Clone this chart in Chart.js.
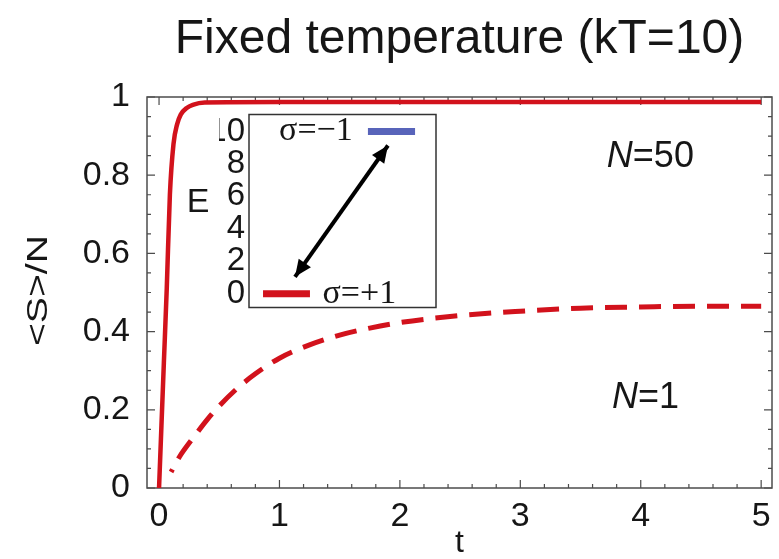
<!DOCTYPE html>
<html>
<head>
<meta charset="utf-8">
<script src="https://cdn.jsdelivr.net/npm/chart.js@4.4.0/dist/chart.umd.min.js"></script>
<style>
  html, body { margin: 0; padding: 0; background: #fff; }
  #wrap { position: relative; width: 779px; height: 559px; }
  #main { position: absolute; left: 0; top: 0; }
  #inset { position: absolute; left: 175px; top: 94px; }
</style>
</head>
<body>
<div id="wrap">
  <canvas id="main" width="779" height="559"></canvas>
  <canvas id="inset" width="275" height="234"></canvas>
</div>
<script>
// <S>/N against time, N = 50 spins
var tN50 = [0, 0.02, 0.04, 0.064, 0.09, 0.12, 0.15, 0.18, 0.23, 0.28, 0.38, 1, 2, 3, 4, 5];
var sN50 = [0, 0.16, 0.32, 0.51, 0.75, 0.88, 0.93, 0.955, 0.972, 0.98, 0.986, 0.987, 0.987, 0.987, 0.987, 0.987];

// single spin, N = 1
var tN1 = [0.1, 0.17, 0.3, 0.4, 0.5, 0.65, 0.8, 1.0, 1.25, 1.5, 1.75, 2.0, 2.5, 3.0, 3.5, 4.0, 4.5, 5.0];
var sN1 = [0.041, 0.08, 0.135, 0.175, 0.21, 0.255, 0.292, 0.332, 0.366, 0.391, 0.409, 0.423, 0.441, 0.452, 0.46, 0.463, 0.465, 0.465];

var xTicks = [0, 1, 2, 3, 4, 5];
var yTicks = [0, 0.2, 0.4, 0.6, 0.8, 1];

// inset: the two energy levels
var levelE = [0, 10];
var levelNames = ['σ=+1', 'σ=−1'];
var insetTicks = [0, 2, 4, 6, 8, 10];

var red = 'rgb(210, 18, 28)';
var blue = 'rgb(88, 100, 186)';
var ink = '#161616';

function pts(xs, ys) {
  return xs.map(function (x, i) { return { x: x, y: ys[i] }; });
}

// mathematica style frame with inward ticks on all four sides
var framePlugin = {
  id: 'frame',
  beforeDatasetsDraw: function (chart) {
    var ctx = chart.ctx, a = chart.chartArea;
    var sx = chart.scales.x, sy = chart.scales.y;
    ctx.save();
    ctx.strokeStyle = '#4c4c4c';
    ctx.lineWidth = 1.5;
    ctx.strokeRect(a.left, a.top, a.right - a.left, a.bottom - a.top);
    ctx.lineWidth = 1.2;
    ctx.beginPath();
    for (var i = 0; i <= 25; i++) {
      var x = sx.getPixelForValue(i / 5);
      var lx = i % 5 ? 4 : 8;
      ctx.moveTo(x, a.bottom); ctx.lineTo(x, a.bottom - lx);
      ctx.moveTo(x, a.top); ctx.lineTo(x, a.top + lx);
    }
    for (var j = 0; j <= 20; j++) {
      var y = sy.getPixelForValue(j / 20);
      var ly = j % 4 ? 4 : 8;
      ctx.moveTo(a.left, y); ctx.lineTo(a.left + ly, y);
      ctx.moveTo(a.right, y); ctx.lineTo(a.right - ly, y);
    }
    ctx.stroke();
    ctx.restore();
  },
  afterDraw: function (chart) {
    var ctx = chart.ctx;
    var sx = chart.scales.x, sy = chart.scales.y;
    ctx.save();
    ctx.fillStyle = ink;
    ctx.textBaseline = 'middle';

    // curve names, italic N
    function nameAt(rest, t, s) {
      ctx.font = 'italic 36px "Liberation Sans"';
      var wN = ctx.measureText('N').width;
      ctx.font = '36px "Liberation Sans"';
      var wR = ctx.measureText(rest).width;
      var x0 = sx.getPixelForValue(t) - (wN + wR) / 2;
      var y0 = sy.getPixelForValue(s);
      ctx.textAlign = 'left';
      ctx.font = 'italic 36px "Liberation Sans"';
      ctx.fillText('N', x0, y0);
      ctx.font = '36px "Liberation Sans"';
      ctx.fillText(rest, x0 + wN, y0);
    }
    nameAt('=50', 4.08, 0.847);
    nameAt('=1', 4.04, 0.23);

    // y axis title, rotated and drawn a little stretched
    ctx.translate(39, (sy.top + sy.bottom) / 2 - 2);
    ctx.rotate(-Math.PI / 2);
    ctx.scale(1.4, 1.05);
    ctx.textAlign = 'center';
    ctx.font = '28px "Liberation Sans"';
    ctx.fillText('<S>/N', 0, 0);
    ctx.restore();
  }
};

new Chart(document.getElementById('main'), {
  type: 'line',
  data: {
    datasets: [{
      label: 'N=50',
      data: pts(tN50, sN50),
      borderColor: red,
      borderWidth: 4.5,
      cubicInterpolationMode: 'monotone'
    }, {
      label: 'N=1',
      data: pts(tN1, sN1),
      borderColor: red,
      borderWidth: 5,
      borderDash: [22, 12],
      borderDashOffset: 19,
      cubicInterpolationMode: 'monotone'
    }]
  },
  options: {
    responsive: false,
    animation: false,
    layout: { padding: { right: 7 } },
    elements: { point: { radius: 0 }, line: { borderCapStyle: 'butt' } },
    plugins: {
      legend: { display: false },
      tooltip: { enabled: false },
      title: {
        display: true,
        fullSize: false,
        text: 'Fixed temperature (kT=10)',
        color: ink,
        font: { size: 48, family: '"Liberation Sans"', weight: 'normal' },
        padding: { top: 11, bottom: 28.4 }
      }
    },
    scales: {
      x: {
        type: 'linear',
        min: -0.1,
        max: 5.09,
        afterBuildTicks: function (s) { s.ticks = xTicks.map(function (v) { return { value: v }; }); },
        afterFit: function (s) { s.height = 71; },
        ticks: {
          color: ink,
          padding: 8,
          maxRotation: 0,
          font: { size: 34, family: '"Liberation Sans"' },
          callback: function (v) { return String(v); }
        },
        grid: { display: false, drawTicks: false },
        border: { display: false },
        title: {
          display: true,
          text: 't',
          color: ink,
          font: { size: 32, family: '"Liberation Sans"', lineHeight: 1 },
          padding: 0
        }
      },
      y: {
        type: 'linear',
        min: 0,
        max: 1,
        afterBuildTicks: function (s) { s.ticks = yTicks.map(function (v) { return { value: v }; }); },
        afterFit: function (s) { s.width = 147; },
        ticks: {
          color: ink,
          padding: 17,
          font: { size: 34, family: '"Liberation Sans"' },
          callback: function (v) { return String(v); }
        },
        grid: { display: false, drawTicks: false },
        border: { display: false }
      }
    }
  },
  plugins: [framePlugin]
});

// inset: level diagram, with a double arrow between the levels
var barX = [[0.075, 0.326], [0.636, 0.888]];
var arrowX = [0.246, 0.743];
var arrowE = [1.04, 9.14];

var insetPlugin = {
  id: 'insetDeco',
  beforeDraw: function (chart) {
    var ctx = chart.ctx, a = chart.chartArea;
    ctx.save();
    ctx.fillStyle = '#fff';
    ctx.fillRect(a.left, a.top, a.right - a.left, a.bottom - a.top);
    ctx.restore();
  },
  afterDraw: function (chart) {
    var ctx = chart.ctx, a = chart.chartArea;
    var sx = chart.scales.x, sy = chart.scales.y;
    ctx.save();
    ctx.strokeStyle = '#333';
    ctx.lineWidth = 1.5;
    ctx.strokeRect(a.left, a.top, a.right - a.left, a.bottom - a.top);

    // arrow heads at both ends of the shaft
    var p = chart.getDatasetMeta(2).data;
    function head(tip, from) {
      var ang = Math.atan2(tip.y - from.y, tip.x - from.x);
      var L = 17, W = 7.5;
      ctx.beginPath();
      ctx.moveTo(tip.x, tip.y);
      ctx.lineTo(tip.x - L * Math.cos(ang) + W * Math.sin(ang), tip.y - L * Math.sin(ang) - W * Math.cos(ang));
      ctx.lineTo(tip.x - L * Math.cos(ang) - W * Math.sin(ang), tip.y - L * Math.sin(ang) + W * Math.cos(ang));
      ctx.closePath();
      ctx.fill();
    }
    ctx.fillStyle = '#000';
    head(p[0], p[1]);
    head(p[1], p[0]);

    ctx.fillStyle = ink;
    ctx.textBaseline = 'middle';
    ctx.textAlign = 'center';
    ctx.font = '34px "Liberation Serif"';
    ctx.fillText(levelNames[0], sx.getPixelForValue(0.59), sy.getPixelForValue(levelE[0]));
    ctx.fillText(levelNames[1], sx.getPixelForValue(0.358), sy.getPixelForValue(levelE[1]));

    ctx.font = '34px "Liberation Sans"';
    ctx.fillText('E', a.left - 51, sy.getPixelForValue(5.6));
    ctx.restore();
  }
};

new Chart(document.getElementById('inset'), {
  type: 'line',
  data: {
    datasets: [{
      label: levelNames[0],
      data: pts(barX[0], [levelE[0], levelE[0]]),
      borderColor: red,
      borderWidth: 7
    }, {
      label: levelNames[1],
      data: pts(barX[1], [levelE[1], levelE[1]]),
      borderColor: blue,
      borderWidth: 7
    }, {
      label: 'transition',
      data: pts(arrowX, arrowE),
      borderColor: '#000',
      borderWidth: 4
    }]
  },
  options: {
    responsive: false,
    animation: false,
    layout: { padding: { left: 44, right: 14, top: 20, bottom: 20 } },
    elements: { point: { radius: 0 }, line: { borderCapStyle: 'butt' } },
    plugins: { legend: { display: false }, tooltip: { enabled: false } },
    scales: {
      x: { type: 'linear', min: 0, max: 1, display: false },
      y: {
        type: 'linear',
        min: -0.85,
        max: 11.05,
        afterBuildTicks: function (s) { s.ticks = insetTicks.map(function (v) { return { value: v }; }); },
        afterFit: function (s) { s.width = 30; },
        ticks: {
          color: ink,
          padding: 4,
          font: { size: 33, family: '"Liberation Sans Narrow", "Liberation Sans"', lineHeight: 1 },
          callback: function (v) { return String(v); }
        },
        grid: { display: false, drawTicks: false },
        border: { display: false }
      }
    }
  },
  plugins: [insetPlugin]
});
</script>
</body>
</html>
